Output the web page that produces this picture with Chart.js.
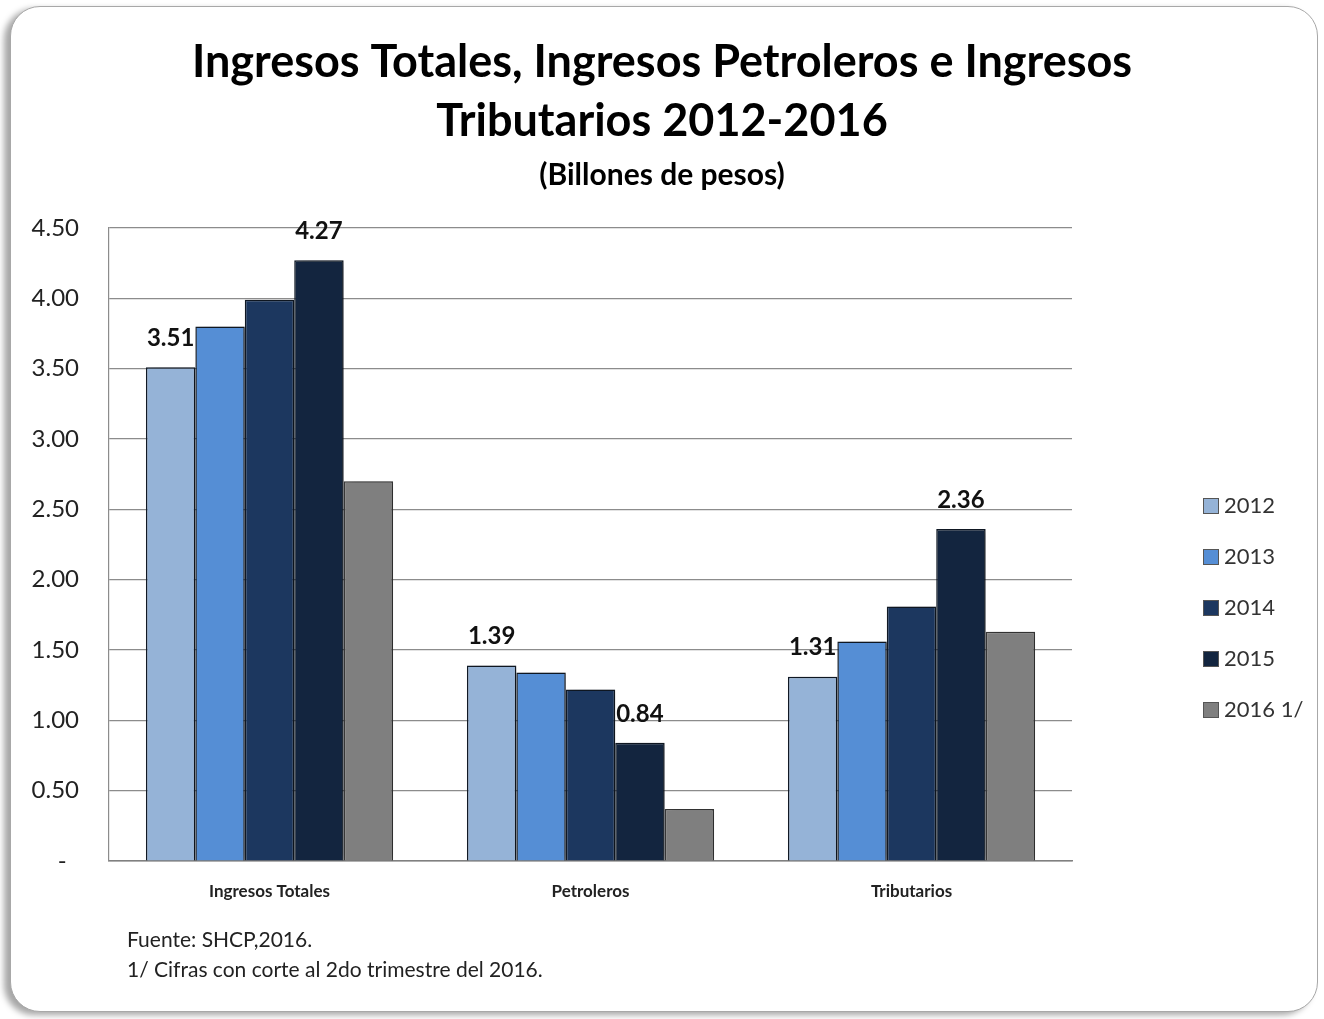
<!DOCTYPE html>
<html>
<head>
<meta charset="utf-8">
<script src="https://cdn.jsdelivr.net/npm/chart.js@4.4.1/dist/chart.umd.min.js"></script>
<style>
    body { margin: 0; background: #fff; }
    #wrap { position: relative; width: 1324px; height: 1019px; overflow: hidden; }
    #frame {
        position: absolute; left: 10px; top: 6px; width: 1306px; height: 1004px;
        border: 1.5px solid #a8a8a8; border-radius: 30px;
        box-shadow: -6px 3px 6px rgba(0, 0, 0, 0.35);
        background: #fff;
    }
    #chartBox { position: absolute; left: 0; top: 0; width: 1324px; height: 1019px; }
    .nota { position: absolute; left: 127px; font-family: Lato, "Open Sans", sans-serif; font-size: 21px; color: #222; }
</style>
</head>
<body>
<div id="wrap">
    <div id="frame"></div>
    <div id="chartBox"><canvas id="Chart-Ingresos"></canvas></div>
    <div class="nota" style="top:926px;">Fuente: SHCP,2016.</div>
    <div class="nota" style="top:956px;">1/ Cifras con corte al 2do trimestre del 2016.</div>
</div>
<script>
// categorias y series (billones de pesos)
const categorias = ['Ingresos Totales', 'Petroleros', 'Tributarios'];
const anios = ['2012', '2013', '2014', '2015', '2016 1/'];
const serie2012 = [3.51, 1.39, 1.31];
const serie2013 = [3.80, 1.34, 1.56];
const serie2014 = [3.99, 1.22, 1.81];
const serie2015 = [4.27, 0.84, 2.36];
const serie2016 = [2.70, 0.37, 1.63];
const ticksY = [0, 0.5, 1, 1.5, 2, 2.5, 3, 3.5, 4, 4.5];
// solo estas series llevan etiqueta de valor
const seriesConEtiqueta = ['2012', '2015'];

const Colores = {
    s2012: '#95b3d7',
    s2013: '#558ed5',
    s2014: '#1c375f',
    s2015: '#13253f',
    s2016: '#7f7f7f'
};
const FONT = 'Lato, "Open Sans", sans-serif';

const series = [serie2012, serie2013, serie2014, serie2015, serie2016];
const colores = [Colores.s2012, Colores.s2013, Colores.s2014, Colores.s2015, Colores.s2016];

const datosChart = {
    labels: categorias,
    datasets: anios.map(function (a, i) {
        return {
            label: a,
            data: series[i],
            backgroundColor: colores[i],
            borderColor: i == 4 ? '#3a3a3a' : '#111a26',
            borderWidth: 1.5,
            categoryPercentage: 0.77,
            barPercentage: 1.0
        };
    })
};

// sombra suave de las barras
const sombraPlugin = {
    id: 'sombra',
    beforeDatasetsDraw(chart) {
        const ctx = chart.ctx;
        ctx.save();
        ctx.shadowColor = 'rgba(0,0,0,0.28)';
        ctx.shadowBlur = 8;
        ctx.shadowOffsetX = 4;
        ctx.shadowOffsetY = 0;
    },
    afterDatasetsDraw(chart) {
        chart.ctx.restore();
    }
};

// etiquetas de valor encima de las barras
const etiquetasPlugin = {
    id: 'etiquetas',
    afterDatasetsDraw(chart) {
        const ctx = chart.ctx;
        ctx.save();
        ctx.font = 'bold 24px ' + FONT;
        ctx.fillStyle = '#111';
        ctx.textAlign = 'center';
        ctx.textBaseline = 'middle';
        chart.data.datasets.forEach(function (ds, i) {
            if (seriesConEtiqueta.indexOf(ds.label) < 0) return;
            const meta = chart.getDatasetMeta(i);
            meta.data.forEach(function (bar, j) {
                ctx.fillText(ds.data[j].toFixed(2), bar.x, bar.y - 29);
            });
        });
        ctx.restore();
    }
};

// leyenda a la derecha, dibujada a mano
const leyendaPlugin = {
    id: 'leyendaDerecha',
    afterDraw(chart) {
        const ctx = chart.ctx;
        const x = 1203, y0 = 506, paso = 51, lado = 16;
        ctx.save();
        ctx.font = '22px ' + FONT;
        ctx.textBaseline = 'middle';
        ctx.textAlign = 'left';
        chart.data.datasets.forEach(function (ds, i) {
            const y = y0 + i * paso;
            ctx.fillStyle = ds.backgroundColor;
            ctx.fillRect(x, y - lado / 2, lado, lado);
            ctx.strokeStyle = '#555';
            ctx.lineWidth = 1;
            ctx.strokeRect(x + 0.5, y - lado / 2 + 0.5, lado - 1, lado - 1);
            ctx.fillStyle = '#333';
            ctx.fillText(ds.label, x + lado + 5, y);
        });
        ctx.restore();
    }
};

const ctx = document.getElementById('Chart-Ingresos').getContext('2d');
var graficaIngresos = new Chart(ctx, {
    type: 'bar',
    data: datosChart,
    plugins: [sombraPlugin, etiquetasPlugin, leyendaPlugin],
    options: {
        responsive: true,
        maintainAspectRatio: false,
        animation: false,
        layout: {
            padding: { left: 0, right: 0, top: 0, bottom: 108 }
        },
        plugins: {
            legend: { display: false },
            tooltip: { enabled: false },
            title: {
                display: true,
                text: ['Ingresos Totales, Ingresos Petroleros e Ingresos', 'Tributarios 2012-2016'],
                font: { family: FONT, size: 45, weight: 'bold', lineHeight: 1.333 },
                color: '#000',
                padding: { top: 32, bottom: 5 }
            },
            subtitle: {
                display: true,
                text: '(Billones de pesos)',
                font: { family: FONT, size: 30, weight: 'bold', lineHeight: 1.2 },
                color: '#000',
                padding: { top: 0, bottom: 35 }
            }
        },
        scales: {
            x: {
                grid: { display: false, drawTicks: false },
                border: { display: true, color: '#808080', width: 1.5 },
                ticks: {
                    font: { family: FONT, size: 17, weight: 'bold' },
                    color: '#222',
                    padding: 20
                },
                afterFit(scale) { scale.height = 50; }
            },
            y: {
                min: 0,
                max: 4.5,
                afterBuildTicks(scale) {
                    scale.ticks = ticksY.map(function (v) { return { value: v }; });
                },
                grid: { color: '#8c8c8c', lineWidth: 1.2, drawTicks: false },
                border: { display: true, color: '#8c8c8c', width: 1.2 },
                ticks: {
                    font: { family: FONT, size: 24 },
                    color: '#222',
                    padding: 30,
                    callback: function (v) { return v == 0 ? '-  ' : v.toFixed(2); }
                },
                afterFit(scale) { scale.width = 109; }
            },
            // eje vacio a la derecha: reserva sitio para la leyenda sin mover el titulo
            yLeyenda: {
                position: 'right',
                display: true,
                grid: { display: false, drawTicks: false },
                border: { display: false },
                ticks: { display: false },
                afterFit(scale) { scale.width = 252; }
            }
        }
    }
});
</script>
</body>
</html>
